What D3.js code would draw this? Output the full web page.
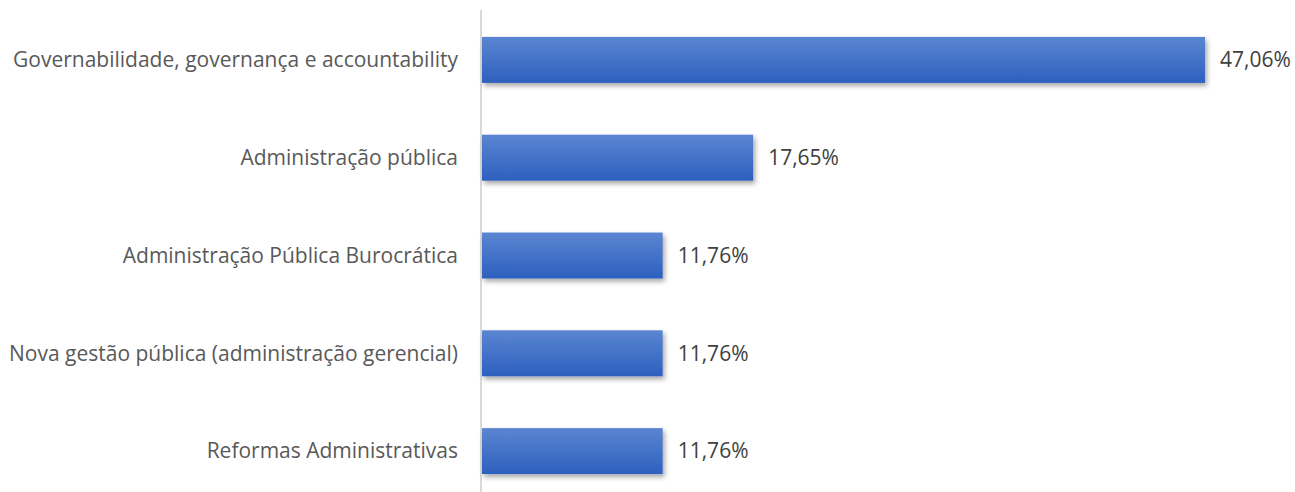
<!DOCTYPE html>
<html><head><meta charset="utf-8">
<script src="https://cdn.jsdelivr.net/npm/d3@7"></script>
<style>body{margin:0;background:#fff;} text{font-family:"Open Sans", Lato, sans-serif;}</style>
</head><body>
<svg id="c" width="1295" height="492"></svg>
<script>
const categories = ["Governabilidade, governança e accountability","Administração pública","Administração Pública Burocrática","Nova gestão pública (administração gerencial)","Reformas Administrativas"];
const values = [47.06, 17.65, 11.76, 11.76, 11.76];
const valueLabels = ["47,06%","17,65%","11,76%","11,76%","11,76%"];

const svg = d3.select("#c");
const x0 = 482;
const x = d3.scaleLinear().domain([0, 47.06]).range([x0, 1205]);
const y = d3.scaleBand().domain(categories).range([11, 500]).paddingInner(0.53).paddingOuter(0.265);

const defs = svg.append("defs");
const g = defs.append("linearGradient").attr("id","bg").attr("x1",0).attr("y1",0).attr("x2",0).attr("y2",1);
g.append("stop").attr("offset","0%").attr("stop-color","#5b85d1");
g.append("stop").attr("offset","100%").attr("stop-color","#2d60bf");
const f = defs.append("filter").attr("id","sh").attr("x","-5%").attr("y","-20%").attr("width","115%").attr("height","160%");
f.append("feDropShadow").attr("dx",2).attr("dy",3).attr("stdDeviation",2.5).attr("flood-color","#000").attr("flood-opacity",0.35);

svg.append("line").attr("x1",481).attr("x2",481).attr("y1",10).attr("y2",492).attr("stroke","#d9d9d9").attr("stroke-width",2);

svg.selectAll("rect.bar").data(categories).join("rect").attr("class","bar")
  .attr("x", x0).attr("y", d=>y(d)).attr("height", y.bandwidth())
  .attr("width", (d,i)=>x(values[i])-x0).attr("fill","url(#bg)").attr("filter","url(#sh)");

svg.selectAll("text.cat").data(categories).join("text").attr("class","cat")
  .attr("x", 458).attr("y", d=>y(d)+y.bandwidth()/2).attr("dy","0.35em")
  .attr("text-anchor","end").attr("font-size",21).attr("fill","#595959").text(d=>d);

svg.selectAll("text.val").data(categories).join("text").attr("class","val")
  .attr("x", (d,i)=>x(values[i])+15).attr("y", d=>y(d)+y.bandwidth()/2).attr("dy","0.35em")
  .attr("font-size",21).attr("fill","#404040").text((d,i)=>valueLabels[i]);
</script>
</body></html>
